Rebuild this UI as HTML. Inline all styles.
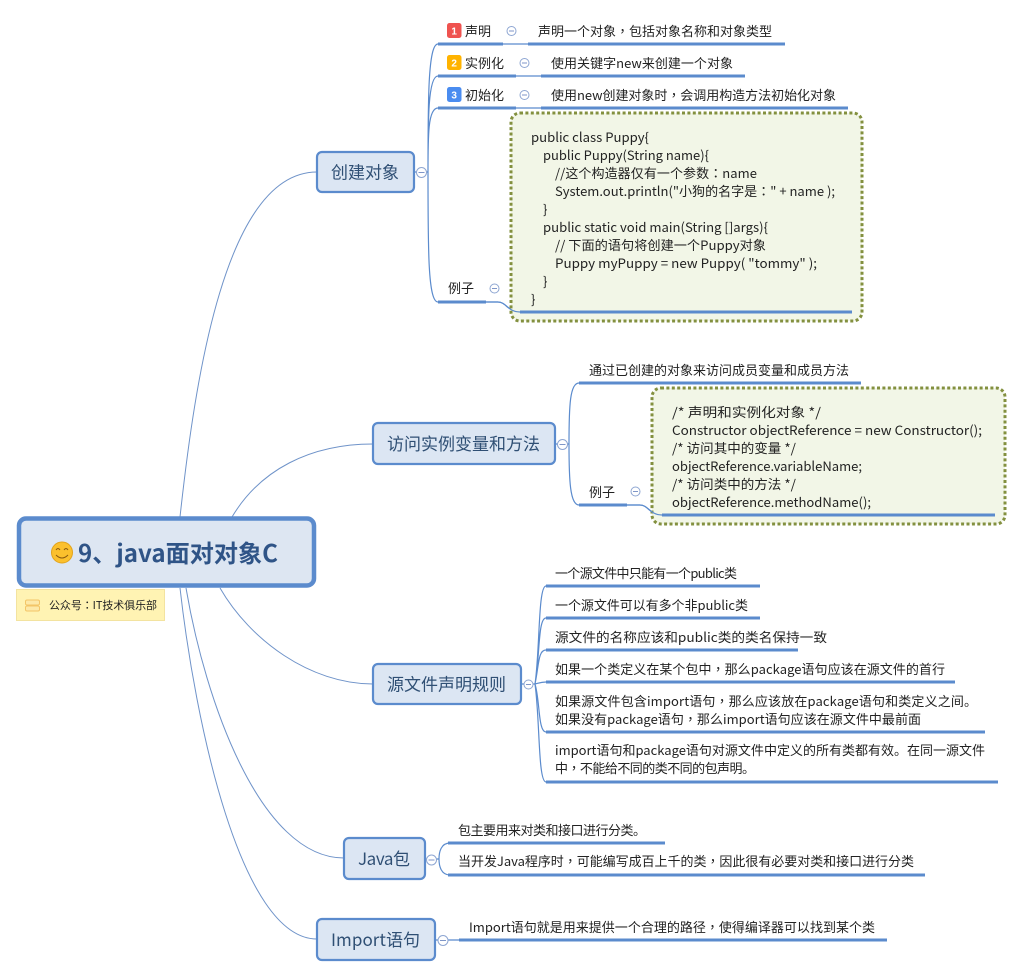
<!DOCTYPE html>
<html><head><meta charset="utf-8"><style>
html,body{margin:0;padding:0;background:#fff;width:1022px;height:977px;overflow:hidden}
svg{display:block}
text{font-family:"Noto Sans CJK SC","Liberation Sans",sans-serif;font-size:13px;fill:#222}
tspan.p{font-family:"Noto Sans CJK TC","Liberation Sans",sans-serif}
.b{font-size:17px;fill:#2f4f74}
.c{fill:none;stroke:#6f93c9;stroke-width:1}
.l{fill:none;stroke:#5b8bcd;stroke-width:1.2}
.t{stroke:#5b8bcd;stroke-width:3;fill:none}
.n{fill:#dce6f3;stroke:#5b8bcd;stroke-width:2.2}
.o{fill:#fff;stroke:#8ea6d2;stroke-width:1}
.m{stroke:#7f96c8;stroke-width:1}
.g{fill:#f2f6e7;stroke:#83903f;stroke-width:3;stroke-dasharray:3 2.4}
.i{font-size:10px;font-weight:bold;fill:#fff;font-family:"Liberation Sans",sans-serif;text-anchor:middle}
</style></head><body>
<svg width="1022" height="977" viewBox="0 0 1022 977" xmlns="http://www.w3.org/2000/svg">
<!-- root curves -->
<path class="c" d="M180 517C195 380 225 172 317 172"/>
<path class="c" d="M232 517C260 470 310 444 373 444"/>
<path class="c" d="M220 588C250 640 310 684 373 684"/>
<path class="c" d="M186 588C205 700 260 858 344 858"/>
<path class="c" d="M180 588C195 720 240 939 317 939"/>
<!-- connectors branch 1 -->
<path class="l" d="M414 172H428M428 172C428 100 428 44 438 44M428 172C428 120 428 76 438 76M428 172C428 135 428 108 438 108M428 172C428 250 428 302 438 302"/>
<path class="l" d="M503 44H528M516 76H541M516 108H541M486 302H498C506 302 508 312 520 312"/>
<path class="t" d="M438 44H503M528 44H785M438 76H516M541 76H745M438 108H516M541 108H848"/>
<!-- green box 1 -->
<rect class="g" x="511" y="113" width="351" height="208" rx="9"/>
<path class="t" d="M438 302H486M520 312H852"/>
<path class="l" d="M486 302H498C506 302 508 312 520 312"/>
<!-- branch 2 -->
<path class="l" d="M555 444H569M569 444C569 405 570 383 579 383M569 444C569 480 570 505 579 505M627 505H640C648 505 650 515 662 515"/>
<path class="t" d="M579 383H861"/>
<rect class="g" x="652" y="388" width="353" height="136" rx="9"/>
<path class="t" d="M579 505H627M662 515H995"/>
<path class="l" d="M627 505H640C648 505 650 515 662 515"/>
<!-- branch 3 -->
<path class="l" d="M521 684H535M535 684C540 650 538 586 546 586M535 684C540 655 538 618 546 618M535 684C539 665 538 650 546 650M535 684C539 683 541 682 546 682M535 684C540 700 538 732 546 732M535 684C540 720 538 782 546 782"/>
<path class="t" d="M546 586H760M546 618H760M546 650H798M546 682H955M546 732H985M546 782H998"/>
<!-- branch 4 -->
<path class="l" d="M425 859H439M439 859C439 852 441 843 450 843M439 859C439 866 441 875 450 875"/>
<path class="t" d="M448 843H665M448 875H925"/>
<!-- branch 5 -->
<path class="l" d="M435 940H459"/>
<path class="t" d="M459 940H887"/>
<!-- nodes -->
<rect x="19" y="518.500" width="295" height="67" rx="7" fill="#dde6f2" stroke="#5b8bcd" stroke-width="4.500"/>
<circle cx="62" cy="552.500" r="10.500" fill="#fbc02d" stroke="#e2a31a"/>
<path d="M56 550q2-3 4 0M64 550q2-3 4 0M56 555q6 6 12 0" fill="none" stroke="#8a5a10" stroke-width="1"/>
<text x="78" y="562" style="font-size:24px;font-weight:bold;fill:#2f5487" textLength="200" lengthAdjust="spacingAndGlyphs">9、java面对对象C</text>
<rect x="16.500" y="589.500" width="148" height="31" fill="#fff3b3" stroke="#f3e3a0"/>
<rect x="25.500" y="600" width="14" height="5" rx="1.500" fill="#fde9a8" stroke="#f3c567"/>
<rect x="25.500" y="606" width="14" height="5" rx="1.500" fill="#fde9a8" stroke="#f3c567"/>
<text x="49" y="609" style="font-size:11px" textLength="108">公众号<tspan class="p">：</tspan>IT技术俱乐部</text>
<rect class="n" x="317" y="152" width="97" height="40" rx="5"/>
<text class="b" x="331" y="178.500" textLength="68">创建对象</text>
<rect class="n" x="373" y="423" width="182" height="41" rx="5"/>
<text class="b" x="387" y="450" textLength="153">访问实例变量和方法</text>
<rect class="n" x="373" y="664" width="148" height="40" rx="5"/>
<text class="b" x="387" y="690.500" textLength="119">源文件声明规则</text>
<rect class="n" x="344" y="838" width="81" height="41" rx="5"/>
<text class="b" x="358" y="865" textLength="52">Java包</text>
<rect class="n" x="317" y="919" width="118" height="41" rx="5"/>
<text class="b" x="331" y="946" textLength="89">Import语句</text>
<!-- collapse -->
<g class="m">
<circle class="o" cx="421.500" cy="172.500" r="5"/><path d="M418.500 172.500h6"/>
<circle class="o" cx="511.500" cy="31" r="4.500"/><path d="M509 31h5"/>
<circle class="o" cx="524.500" cy="63" r="4.500"/><path d="M522 63h5"/>
<circle class="o" cx="524.500" cy="95" r="4.500"/><path d="M522 95h5"/>
<circle class="o" cx="494.500" cy="288.500" r="4.500"/><path d="M492 288.500h5"/>
<circle class="o" cx="562.500" cy="444.500" r="5"/><path d="M559.500 444.500h6"/>
<circle class="o" cx="635.500" cy="491.500" r="4.500"/><path d="M633 491.500h5"/>
<circle class="o" cx="528.500" cy="684.500" r="4.500"/><path d="M526 684.500h5"/>
<circle class="o" cx="431.500" cy="860" r="5"/><path d="M428.500 860h6"/>
<circle class="o" cx="443" cy="940.500" r="5"/><path d="M440 940.500h6"/>
</g>
<!-- badges -->
<rect x="447" y="23" width="14.500" height="15" rx="2.500" fill="#ef5350"/><text class="i" x="454.200" y="34.500">1</text>
<rect x="447" y="55" width="14.500" height="15" rx="2.500" fill="#ffb300"/><text class="i" x="454.200" y="66.500">2</text>
<rect x="447" y="87" width="14.500" height="15" rx="2.500" fill="#4a8cf0"/><text class="i" x="454.200" y="98.500">3</text>
<!-- labels -->
<text x="465" y="36" textLength="26">声明</text>
<text x="465" y="68" textLength="39">实例化</text>
<text x="465" y="100" textLength="39">初始化</text>
<text x="538" y="36" textLength="234">声明一个对象<tspan class="p">，</tspan>包括对象名称和对象类型</text>
<text x="551" y="68" textLength="182">使用关键字new来创建一个对象</text>
<text x="551" y="100" textLength="285">使用new创建对象时<tspan class="p">，</tspan>会调用构造方法初始化对象</text>
<text x="448" y="293" textLength="26">例子</text>
<text x="531" y="142" textLength="118" lengthAdjust="spacingAndGlyphs">public class Puppy{</text>
<text x="543" y="160" textLength="166" lengthAdjust="spacingAndGlyphs">public Puppy(String name){</text>
<text x="555" y="178" textLength="202">//这个构造器仅有一个参数<tspan class="p">：</tspan>name</text>
<text x="555" y="196" textLength="280" lengthAdjust="spacingAndGlyphs">System.out.println("小狗的名字是<tspan class="p">：</tspan>" + name );</text>
<text x="543" y="214">}</text>
<text x="543" y="232" textLength="225" lengthAdjust="spacingAndGlyphs">public static void main(String []args){</text>
<text x="555" y="250" textLength="211" lengthAdjust="spacingAndGlyphs">// 下面的语句将创建一个Puppy对象</text>
<text x="555" y="268" textLength="262" lengthAdjust="spacingAndGlyphs">Puppy myPuppy = new Puppy( "tommy" );</text>
<text x="543" y="286">}</text>
<text x="531" y="304">}</text>
<text x="589" y="375" textLength="260">通过已创建的对象来访问成员变量和成员方法</text>
<text x="589" y="497" textLength="26">例子</text>
<text x="672" y="417" textLength="149" lengthAdjust="spacingAndGlyphs">/* 声明和实例化对象 */</text>
<text x="672" y="435" textLength="310" lengthAdjust="spacingAndGlyphs">Constructor objectReference = new Constructor();</text>
<text x="672" y="453" textLength="124" lengthAdjust="spacingAndGlyphs">/* 访问其中的变量 */</text>
<text x="672" y="471" textLength="190" lengthAdjust="spacingAndGlyphs">objectReference.variableName;</text>
<text x="672" y="489" textLength="124" lengthAdjust="spacingAndGlyphs">/* 访问类中的方法 */</text>
<text x="672" y="507" textLength="199" lengthAdjust="spacingAndGlyphs">objectReference.methodName();</text>
<text x="555" y="578" textLength="182">一个源文件中只能有一个public类</text>
<text x="555" y="610" textLength="193">一个源文件可以有多个非public类</text>
<text x="555" y="642" textLength="272" lengthAdjust="spacingAndGlyphs">源文件的名称应该和public类的类名保持一致</text>
<text x="555" y="674" textLength="390">如果一个类定义在某个包中<tspan class="p">，</tspan>那么package语句应该在源文件的首行</text>
<text x="555" y="706" textLength="422">如果源文件包含import语句<tspan class="p">，</tspan>那么应该放在package语句和类定义之间。</text>
<text x="555" y="724" textLength="366">如果没有package语句<tspan class="p">，</tspan>那么import语句应该在源文件中最前面</text>
<text x="555" y="755" textLength="430">import语句和package语句对源文件中定义的所有类都有效。在同一源文件</text>
<text x="555" y="773" textLength="200">中<tspan class="p">，</tspan>不能给不同的类不同的包声明。</text>
<text x="458" y="835" textLength="188">包主要用来对类和接口进行分类。</text>
<text x="458" y="866" textLength="456">当开发Java程序时<tspan class="p">，</tspan>可能编写成百上千的类<tspan class="p">，</tspan>因此很有必要对类和接口进行分类</text>
<text x="469" y="932" textLength="406">Import语句就是用来提供一个合理的路径<tspan class="p">，</tspan>使得编译器可以找到某个类</text>
</svg>
</body></html>
